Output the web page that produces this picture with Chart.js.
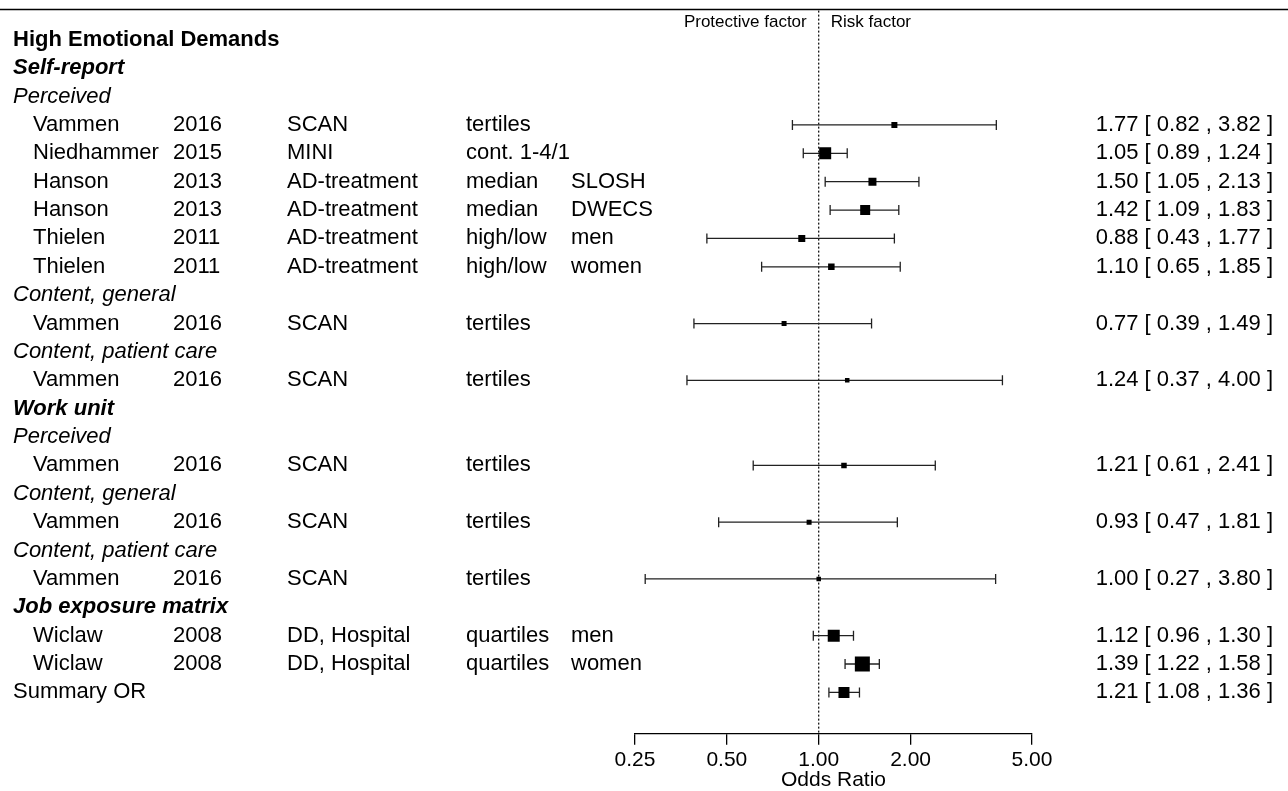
<!DOCTYPE html>
<html>
<head>
<meta charset="utf-8">
<script src="https://cdn.jsdelivr.net/npm/chart.js@4/dist/chart.umd.min.js"></script>
<style>
  html, body { margin: 0; padding: 0; background: #fff; }
  #wrap { width: 1288px; height: 791px; }
</style>
</head>
<body>
<div id="wrap"><canvas id="forest"></canvas></div>
<script>
// Study rows
const authors     = ["Vammen", "Niedhammer", "Hanson", "Hanson", "Thielen", "Thielen", "Vammen", "Vammen", "Vammen", "Vammen", "Vammen", "Wiclaw", "Wiclaw"];
const years       = ["2016", "2015", "2013", "2013", "2011", "2011", "2016", "2016", "2016", "2016", "2016", "2008", "2008"];
const instruments = ["SCAN", "MINI", "AD-treatment", "AD-treatment", "AD-treatment", "AD-treatment", "SCAN", "SCAN", "SCAN", "SCAN", "SCAN", "DD, Hospital", "DD, Hospital"];
const cutoffs     = ["tertiles", "cont. 1-4/1", "median", "median", "high/low", "high/low", "tertiles", "tertiles", "tertiles", "tertiles", "tertiles", "quartiles", "quartiles"];
const subgroups   = ["", "", "SLOSH", "DWECS", "men", "women", "", "", "", "", "", "men", "women"];
const oddsRatios  = [1.77, 1.05, 1.50, 1.42, 0.88, 1.10, 0.77, 1.24, 1.21, 0.93, 1.00, 1.12, 1.39];
const lowerCI     = [0.82, 0.89, 1.05, 1.09, 0.43, 0.65, 0.39, 0.37, 0.61, 0.47, 0.27, 0.96, 1.22];
const upperCI     = [3.82, 1.24, 2.13, 1.83, 1.77, 1.85, 1.49, 4.00, 2.41, 1.81, 3.80, 1.30, 1.58];
const weights     = [6, 12, 8, 10, 7, 6.5, 5, 4.5, 5.5, 5, 4.5, 12, 15];
const studyRows   = [3, 4, 5, 6, 7, 8, 10, 12, 15, 17, 19, 21, 22];

// Summary
const summaryLabel = "Summary OR";
const summaryOR = 1.21, summaryLower = 1.08, summaryUpper = 1.36, summaryWeight = 11;
const summaryRow = 23;

// Group headings (level 0 = title, 1 = source, 2 = measure)
const headings      = ["High Emotional Demands", "Self-report", "Perceived", "Content, general", "Content, patient care",
                       "Work unit", "Perceived", "Content, general", "Content, patient care", "Job exposure matrix"];
const headingRows   = [0, 1, 2, 9, 11, 13, 14, 16, 18, 20];
const headingLevels = [0, 1, 2, 2, 2, 1, 2, 2, 2, 1];

const tickValues = [0.25, 0.5, 1, 2, 5];
const axisTitle = "Odds Ratio";
const leftNote = "Protective factor", rightNote = "Risk factor";

const FONT = "'Liberation Sans', Arial, sans-serif";
const headingFonts = ["bold 22px " + FONT, "italic bold 22px " + FONT, "italic 22px " + FONT];
const colX = [33, 173, 287, 466, 571];

const allX = oddsRatios.concat([summaryOR]);
const allY = studyRows.concat([summaryRow]);
const allLo = lowerCI.concat([summaryLower]);
const allHi = upperCI.concat([summaryUpper]);
const allW = weights.concat([summaryWeight]);

const forestPlugin = {
    id: 'forest',
    beforeDatasetsDraw(chart) {
        const { ctx, scales: { x, y }, chartArea } = chart;
        ctx.save();
        // reference line at OR = 1
        ctx.strokeStyle = '#000';
        ctx.lineWidth = 1.2;
        ctx.setLineDash([2, 2]);
        ctx.beginPath();
        ctx.moveTo(x.getPixelForValue(1), chartArea.top);
        ctx.lineTo(x.getPixelForValue(1), chartArea.bottom);
        ctx.stroke();
        ctx.setLineDash([]);
        // confidence intervals
        ctx.strokeStyle = '#222';
        ctx.lineWidth = 1.3;
        allY.forEach((row, i) => {
            const py = y.getPixelForValue(row);
            const x1 = x.getPixelForValue(allLo[i]);
            const x2 = x.getPixelForValue(allHi[i]);
            ctx.beginPath();
            ctx.moveTo(x1, py); ctx.lineTo(x2, py);
            ctx.moveTo(x1, py - 5); ctx.lineTo(x1, py + 5);
            ctx.moveTo(x2, py - 5); ctx.lineTo(x2, py + 5);
            ctx.stroke();
        });
        ctx.restore();
    },
    afterDraw(chart) {
        const { ctx, scales: { x, y } } = chart;
        ctx.save();
        ctx.fillStyle = '#000';
        ctx.textBaseline = 'middle';
        // top rule
        ctx.strokeStyle = '#000';
        ctx.lineWidth = 1.5;
        ctx.beginPath();
        ctx.moveTo(0, 9.5); ctx.lineTo(chart.width, 9.5);
        ctx.stroke();
        // direction notes
        const x1 = x.getPixelForValue(1);
        ctx.font = "17px " + FONT;
        ctx.textAlign = 'right';
        ctx.fillText(leftNote, x1 - 12, 22);
        ctx.textAlign = 'left';
        ctx.fillText(rightNote, x1 + 12, 22);
        // headings
        headings.forEach((h, i) => {
            ctx.font = headingFonts[headingLevels[i]];
            ctx.fillText(h, 13, y.getPixelForValue(headingRows[i]));
        });
        // study columns
        ctx.font = "22px " + FONT;
        studyRows.forEach((row, i) => {
            const py = y.getPixelForValue(row);
            [authors[i], years[i], instruments[i], cutoffs[i], subgroups[i]].forEach((t, c) => {
                if (t) ctx.fillText(t, colX[c], py);
            });
        });
        ctx.fillText(summaryLabel, 13, y.getPixelForValue(summaryRow));
        // estimates column
        ctx.textAlign = 'right';
        allY.forEach((row, i) => {
            const txt = allX[i].toFixed(2) + " [ " + allLo[i].toFixed(2) + " , " + allHi[i].toFixed(2) + " ]";
            ctx.fillText(txt, 1273, y.getPixelForValue(row));
        });
        ctx.restore();
    }
};

new Chart(document.getElementById('forest'), {
    type: 'scatter',
    data: {
        datasets: [{
            data: allX.map((v, i) => ({ x: v, y: allY[i] })),
            pointStyle: 'rect',
            pointRadius: allW.map(w => w / Math.SQRT2),
            pointHoverRadius: allW.map(w => w / Math.SQRT2),
            backgroundColor: '#000',
            borderColor: '#000',
            borderWidth: 0
        }]
    },
    options: {
        responsive: true,
        maintainAspectRatio: false,
        animation: false,
        layout: { padding: { left: 635, right: 256, top: 10, bottom: 0 } },
        plugins: { legend: { display: false }, tooltip: { enabled: false } },
        scales: {
            x: {
                type: 'logarithmic',
                min: 0.25,
                max: 5,
                afterBuildTicks: axis => { axis.ticks = tickValues.map(v => ({ value: v })); },
                ticks: {
                    color: '#000',
                    font: { family: FONT, size: 21 },
                    padding: 3,
                    maxRotation: 0,
                    autoSkip: false,
                    callback: v => Number(v).toFixed(2)
                },
                grid: { drawOnChartArea: false, drawTicks: true, tickLength: 11, color: '#000', lineWidth: 1.3 },
                border: { display: true, color: '#000', width: 1.3 },
                title: {
                    display: true,
                    text: axisTitle,
                    color: '#000',
                    font: { family: FONT, size: 21, lineHeight: 1 },
                    padding: { top: -6, bottom: 0 }
                }
            },
            y: {
                type: 'linear',
                display: false,
                reverse: true,
                min: -1.03,
                max: 24.46
            }
        }
    },
    plugins: [forestPlugin]
});
</script>
</body>
</html>
